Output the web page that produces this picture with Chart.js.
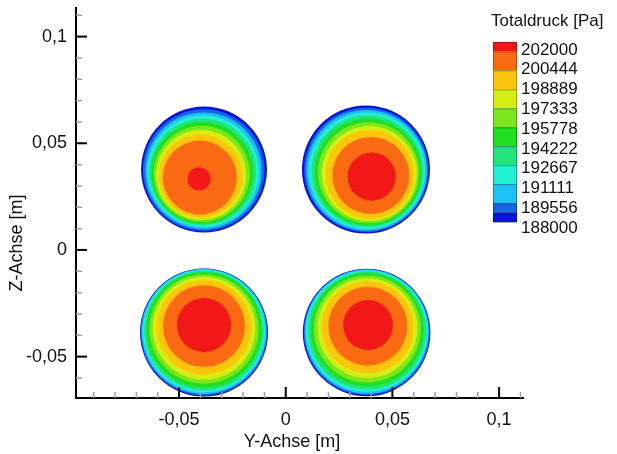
<!DOCTYPE html>
<html lang="de">
<head>
<meta charset="utf-8">
<title>Totaldruck</title>
<script src="https://cdn.jsdelivr.net/npm/chart.js@4.4.1/dist/chart.umd.min.js"></script>
<style>
  html, body { margin: 0; padding: 0; background: #fff; }
  #wrap { width: 617px; height: 454px; }
</style>
</head>
<body>
<div id="wrap"><canvas id="druckChart" width="617" height="454"></canvas></div>
<script>
// Konturstufen Totaldruck [Pa], wie in der Legende von oben nach unten
const levels = [202000, 200444, 198889, 197333, 195778, 194222, 192667, 191111, 189556, 188000];
// Farbzonen: rot (innen, > 202000) bis dunkelblau (< 188000)
const bandColors = [
  '#f21818', '#f96a12', '#ffc40c', '#d6ef12', '#7ee61e', '#1ee01e',
  '#24e27c', '#22f0d4', '#1ec2f2', '#1466e6', '#0a14d8'
];
// Düsenmitten in m: oben links, oben rechts, unten links, unten rechts
const jetY = [-0.0383, 0.0376, -0.0383, 0.0379];
const jetZ = [0.0377, 0.0377, -0.0387, -0.0387];
// Lage des Druckmaximums (Kern)
const coreY = [-0.0406, 0.0403, -0.0383, 0.0386];
const coreZ = [0.0333, 0.0344, -0.0352, -0.0352];
// Außenradius jeder Farbzone in m, innen (rot) nach außen (dunkelblau)
const ringR = [
  [0.0054, 0.0173, 0.0196, 0.0211, 0.0225, 0.0238, 0.0250, 0.0261, 0.0273, 0.0285, 0.0295],
  [0.0113, 0.0180, 0.0208, 0.0223, 0.0237, 0.0250, 0.0262, 0.0273, 0.0283, 0.0291, 0.0300],
  [0.0127, 0.0192, 0.0222, 0.0241, 0.0256, 0.0270, 0.0280, 0.0287, 0.0293, 0.0297, 0.0300],
  [0.0117, 0.0185, 0.0216, 0.0234, 0.0251, 0.0265, 0.0277, 0.0285, 0.0291, 0.0295, 0.0299]
];
// wie weit jede Zone zum Kern hin verschoben liegt (1 = ganz)
const ringShift = [1, 0.85, 0.7, 0.58, 0.46, 0.36, 0.27, 0.19, 0.12, 0.06, 0];

const FONT = "'Liberation Sans', Arial, sans-serif";
Chart.defaults.font.family = FONT;
Chart.defaults.color = '#111';

// radius in data units -> pixels through the x scale (same px/m on both axes)
function ringRadius(ctx, k) {
  if (ctx.type !== 'data') return 0;
  const s = ctx.chart.scales.x;
  return Math.abs(s.getPixelForValue(ringR[ctx.dataIndex][k]) - s.getPixelForValue(0));
}

const datasets = bandColors.map((color, k) => ({
  label: k < levels.length ? '> ' + levels[k] : '< ' + levels[levels.length - 1],
  data: jetY.map((y, j) => ({
    x: y + ringShift[k] * (coreY[j] - y),
    y: jetZ[j] + ringShift[k] * (coreZ[j] - jetZ[j])
  })),
  pointBackgroundColor: color,
  pointBorderColor: color,
  pointBorderWidth: 0,
  pointRadius: ctx => ringRadius(ctx, k),
  pointHoverRadius: ctx => ringRadius(ctx, k)
}));

const fmt = v => {
  const n = Math.round(v * 100);
  if (n % 5 !== 0) return '';
  return String(n / 100).replace('.', ',');
};

// ticks drawn inward, major every 0.05, minor every 0.01
const innerTicks = {
  id: 'innerTicks',
  afterDraw(chart) {
    const c = chart.ctx;
    const area = chart.chartArea;
    c.save();
    for (const id of ['x', 'y']) {
      const s = chart.scales[id];
      s.ticks.forEach(t => {
        const n = Math.round(t.value * 100);
        const major = n % 5 === 0;
        const p = s.getPixelForValue(t.value);
        const len = major ? 11 : 6;
        c.strokeStyle = major ? '#000' : '#a0a0a0';
        c.lineWidth = major ? 2 : 1.5;
        c.beginPath();
        if (id === 'x') {
          c.moveTo(p, area.bottom);
          c.lineTo(p, area.bottom - len);
        } else {
          c.moveTo(area.left, p);
          c.lineTo(area.left + len, p);
        }
        c.stroke();
      });
    }
    // axis titles
    c.fillStyle = '#111';
    c.font = '18px ' + FONT;
    c.textAlign = 'center';
    c.textBaseline = 'middle';
    c.fillText('Y-Achse [m]', 292, 442);
    c.translate(17, 243);
    c.rotate(-Math.PI / 2);
    c.fillText('Z-Achse [m]', 0, 0);
    c.restore();
  }
};

// colour bar legend on the right
const colourBar = {
  id: 'colourBar',
  afterDraw(chart) {
    const c = chart.ctx;
    const x0 = 493, w = 24, top = 42, unit = 18.95;
    const weights = [0.5, 1, 1, 1, 1, 1, 1, 1, 1, 0.5, 0.5];
    c.save();
    let y = top;
    bandColors.forEach((col, i) => {
      const h = weights[i] * unit;
      c.fillStyle = col;
      c.fillRect(x0, y, w, h);
      c.strokeStyle = 'rgba(0,0,0,0.3)';
      c.lineWidth = 1;
      c.strokeRect(x0 + 0.5, y + 0.5, w - 1, h);
      y += h;
    });
    c.fillStyle = '#111';
    c.font = '17px ' + FONT;
    c.textAlign = 'left';
    c.textBaseline = 'middle';
    c.fillText('Totaldruck [Pa]', 491, 21);
    levels.forEach((lv, i) => c.fillText(String(lv), 521, 50 + i * 19.8));
    c.restore();
  }
};

const ctx = document.getElementById('druckChart');
const druckChart = new Chart(ctx, {
  type: 'scatter',
  data: { datasets },
  options: {
    responsive: false,
    animation: false,
    events: [],
    layout: { padding: { left: 0, right: 94, top: 8, bottom: 0 } },
    plugins: {
      legend: { display: false },
      tooltip: { enabled: false }
    },
    scales: {
      x: {
        type: 'linear',
        min: -0.0983,
        max: 0.1112,
        afterFit: s => { s.height = 56; s.paddingLeft = 0; s.paddingRight = 0; },
        grid: { display: false, drawTicks: false, tickLength: 0 },
        border: { display: true, color: '#000', width: 2 },
        ticks: {
          stepSize: 0.01,
          includeBounds: false,
          autoSkip: false,
          maxRotation: 0,
          padding: 11,
          font: { size: 18 },
          color: '#111',
          callback: v => fmt(v)
        }
      },
      y: {
        type: 'linear',
        min: -0.0694,
        max: 0.1134,
        afterFit: s => { s.width = 76; s.paddingTop = 0; s.paddingBottom = 0; },
        grid: { display: false, drawTicks: false, tickLength: 0 },
        border: { display: true, color: '#000', width: 2 },
        ticks: {
          stepSize: 0.01,
          includeBounds: false,
          autoSkip: false,
          padding: 9,
          font: { size: 18 },
          color: '#111',
          callback: v => fmt(v)
        }
      }
    }
  },
  plugins: [innerTicks, colourBar]
});
</script>
</body>
</html>
